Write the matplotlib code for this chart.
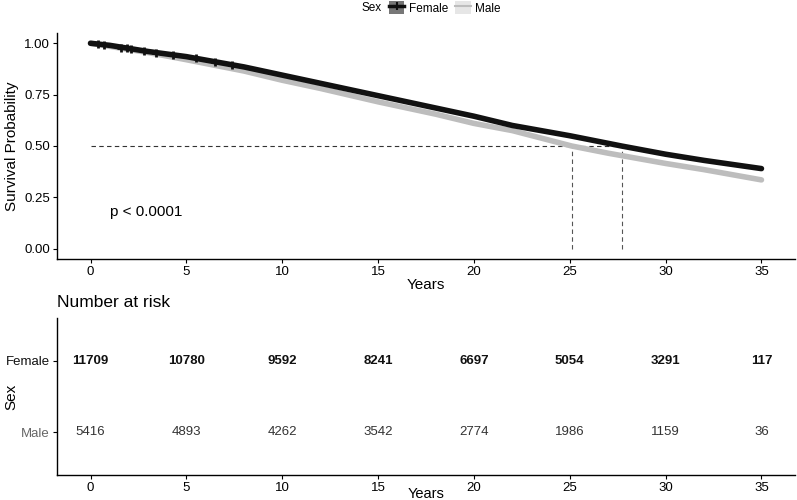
import matplotlib
matplotlib.use("Agg")
import matplotlib.pyplot as plt
from matplotlib.lines import Line2D
from matplotlib.patches import Patch
import numpy as np

plt.rcParams['font.family'] = ['Liberation Sans', 'DejaVu Sans']

# Survival curves
female_t = [0, 1, 2, 3, 5, 8, 10, 12, 15, 18, 20, 22, 25, 27.7, 30, 32, 35]
female_s = [1.0, 0.99, 0.975, 0.96, 0.935, 0.885, 0.845, 0.805, 0.745, 0.685, 0.645, 0.60, 0.55, 0.50, 0.46, 0.43, 0.39]
male_t = [0, 1, 2, 3, 5, 8, 10, 12, 15, 18, 20, 22, 25.1, 27, 30, 32, 35]
male_s = [1.0, 0.985, 0.97, 0.955, 0.92, 0.865, 0.82, 0.78, 0.715, 0.655, 0.61, 0.575, 0.50, 0.465, 0.415, 0.385, 0.335]

# censor marks (time, survival)
cens_t = [0.4, 0.7, 1.6, 1.9, 2.1, 2.8, 3.4, 4.3, 5.5, 6.5, 7.4]
cens_s = [0.996, 0.99, 0.979, 0.975, 0.972, 0.962, 0.953, 0.942, 0.927, 0.91, 0.895]

medians = [25.1, 27.7]
p_text = "p < 0.0001"

groups = ["Female", "Male"]
risk_times = [0, 5, 10, 15, 20, 25, 30, 35]
risk_female = [11709, 10780, 9592, 8241, 6697, 5054, 3291, 117]
risk_male = [5416, 4893, 4262, 3542, 2774, 1986, 1159, 36]

xticks = [0, 5, 10, 15, 20, 25, 30, 35]
yticks = [0.0, 0.25, 0.5, 0.75, 1.0]

c_f = "#111111"
c_m = "#bdbdbd"

fig = plt.figure(figsize=(7.97, 5.0), dpi=100)
ax = fig.add_axes([0.0715, 0.482, 0.926, 0.452])

ax.plot(male_t, male_s, color=c_m, lw=4.0, solid_capstyle='round', zorder=2)
ax.plot(female_t, female_s, color=c_f, lw=4.0, solid_capstyle='round', zorder=3)
ax.plot(cens_t, cens_s, ls='none', marker='+', ms=6, mew=2, color=c_f, zorder=4)

# median lines
ax.plot([0, max(medians)], [0.5, 0.5], ls=(0, (4, 3)), color="#333333", lw=0.8, zorder=1)
for m in medians:
    ax.plot([m, m], [0, 0.5], ls=(0, (4, 3)), color="#555555", lw=0.8, zorder=1)

ax.text(1.0, 0.18, p_text, fontsize=11, va='center', ha='left')

ax.set_xlim(-1.75, 36.75)
ax.set_ylim(-0.05, 1.05)
ax.set_xticks(xticks)
ax.set_yticks(yticks)
ax.set_yticklabels([f"{v:.2f}" for v in yticks])
ax.set_xlabel("Years", fontsize=11)
ax.set_ylabel("Survival Probability", fontsize=11)
ax.xaxis.set_label_coords(0.5, -0.085)
ax.yaxis.set_label_coords(-0.052, 0.5)
for s in ['top', 'right']:
    ax.spines[s].set_visible(False)
for s in ['left', 'bottom']:
    ax.spines[s].set_linewidth(1.0)
ax.tick_params(labelsize=9.5, length=3, width=0.8, colors='black', pad=2)

# legend
fig.text(362/797, 1 - 8/500, "Sex", fontsize=8.5, va='center', ha='left')
h_f = (Patch(facecolor="#777777", edgecolor='none'),
       Line2D([], [], color=c_f, lw=2.5, marker='+', ms=6, mew=1.5))
h_m = (Patch(facecolor="#e6e6e6", edgecolor='none'),
       Line2D([], [], color=c_m, lw=1.5))
fig.legend([h_f, h_m], groups, loc='center left', bbox_to_anchor=(389/797, 1 - 8/500),
           ncol=2, frameon=False, fontsize=8.5, handlelength=1.3, handleheight=1.2,
           columnspacing=0.6, handletextpad=0.4, borderpad=0, borderaxespad=0)

# risk table
ax2 = fig.add_axes([0.0715, 0.05, 0.926, 0.314])
ax2.set_xlim(-1.75, 36.75)
ax2.set_ylim(0.4, 2.6)
for t, f, m in zip(risk_times, risk_female, risk_male):
    ax2.text(t, 2, str(f), ha='center', va='center', fontsize=9.5, fontweight='bold', color='#111111')
    ax2.text(t, 1, str(m), ha='center', va='center', fontsize=9.5, color='#333333')
ax2.set_xticks(xticks)
ax2.set_yticks([2, 1])
ax2.set_yticklabels(groups)
ax2.get_yticklabels()[0].set_color('#111111')
ax2.get_yticklabels()[1].set_color('#666666')
ax2.set_xlabel("Years", fontsize=10.5)
ax2.set_ylabel("Sex", fontsize=11)
ax2.xaxis.set_label_coords(0.5, -0.075)
ax2.yaxis.set_label_coords(-0.052, 0.5)
for s in ['top', 'right']:
    ax2.spines[s].set_visible(False)
for s in ['left', 'bottom']:
    ax2.spines[s].set_linewidth(1.0)
ax2.tick_params(labelsize=9.5, length=3, width=0.8, pad=2)
ax2.set_title("Number at risk", loc='left', fontsize=12.5, pad=8)

fig.savefig("out.png", dpi=100)
